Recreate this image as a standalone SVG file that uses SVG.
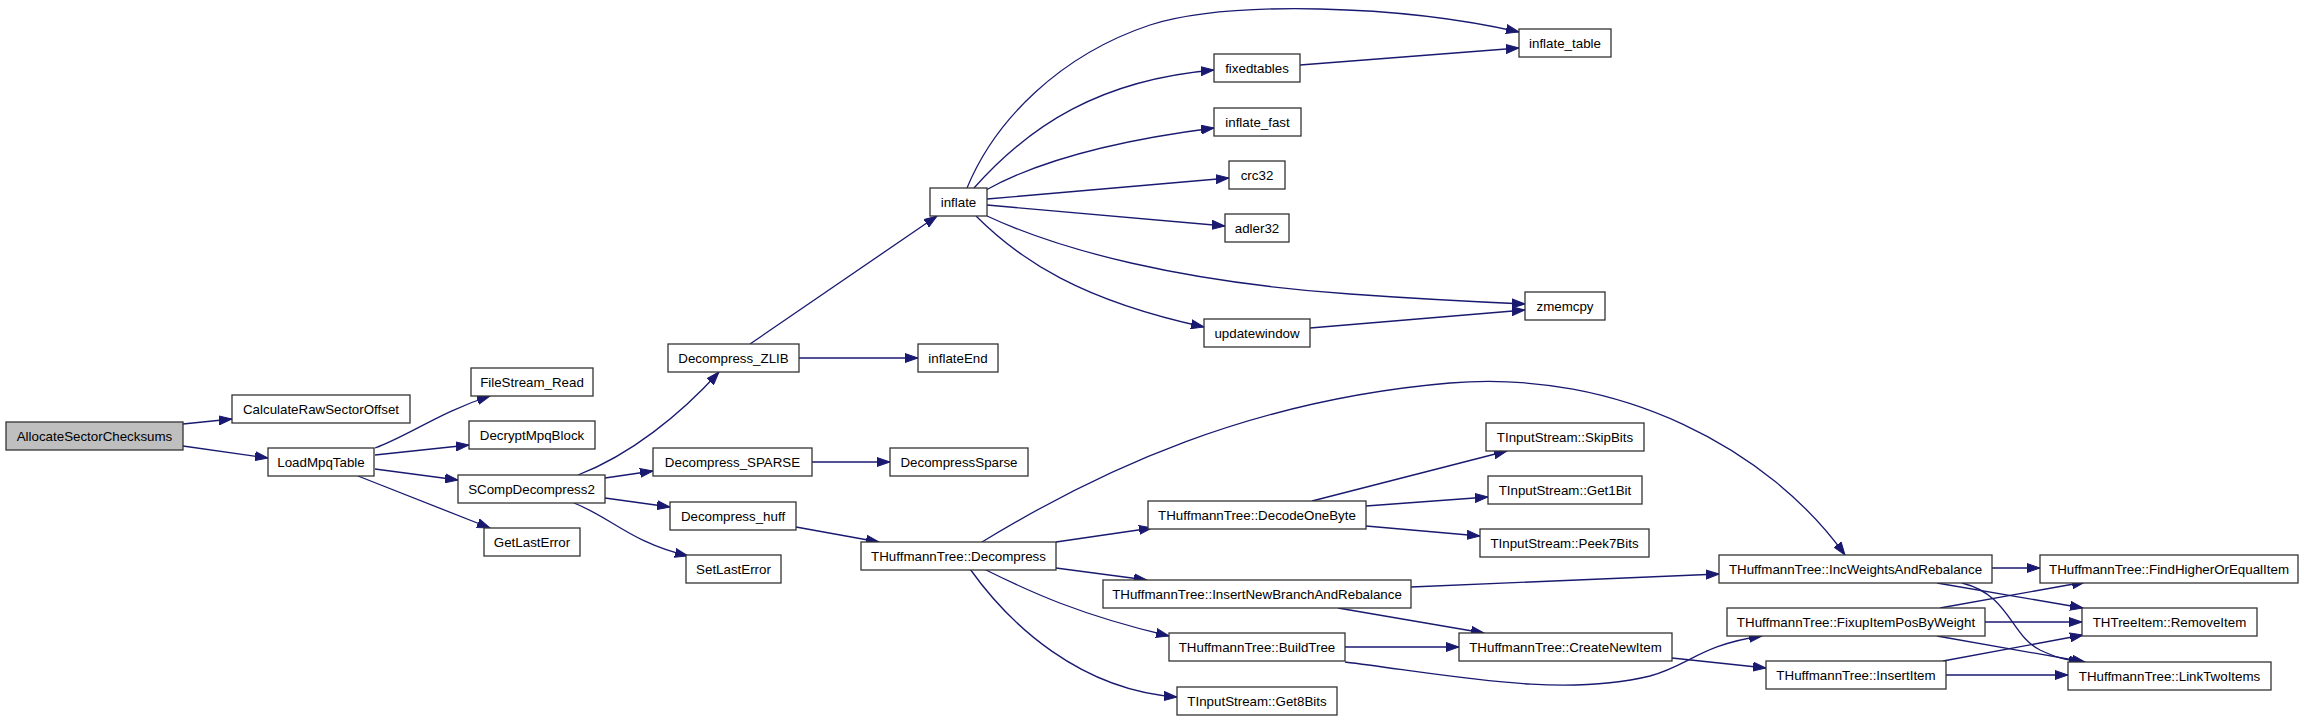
<svg xmlns="http://www.w3.org/2000/svg" width="2304" height="721" viewBox="0 0 2304 721">
<style>
.n rect{fill:#ffffff;stroke:#333333;stroke-width:1.3}
.n.root rect{fill:#bfbfbf}
.n text{font-family:"Liberation Sans",Arial,sans-serif;font-size:13.33px;fill:#000000;text-anchor:middle}
.e path{fill:none;stroke:#191970;stroke-width:1.3;marker-end:url(#arr)}
</style>
<defs>
<marker id="arr" markerWidth="14" markerHeight="10" refX="13" refY="5" orient="auto" markerUnits="userSpaceOnUse">
<path d="M0,0.5 L13,5 L0,9.5 z" fill="#191970" stroke="#191970" stroke-width="1"/>
</marker>
</defs>
<rect x="0" y="0" width="2304" height="721" fill="#ffffff"/>
<g id="connectors" class="e">
<path d="M183,424 L232,419"/>
<path d="M183,446 L268,458"/>
<path d="M375,448 C410,435 440,412 490,396"/>
<path d="M375,455 L469,445"/>
<path d="M375,469 L458,480"/>
<path d="M358,476 L490,528"/>
<path d="M578,475 C630,455 680,415 719,372"/>
<path d="M605,478 L653,471"/>
<path d="M605,498 L670,507"/>
<path d="M574,503 C612,518 630,542 688,556"/>
<path d="M750,344 L937,216"/>
<path d="M799,358 L918,358"/>
<path d="M812,462 L890,462"/>
<path d="M796,527 L879,542"/>
<path d="M967,188 C995,120 1060,55 1150,25 C1230,0 1400,5 1519,32"/>
<path d="M974,188 C1030,125 1100,80 1214,70"/>
<path d="M986,190 C1040,160 1120,140 1214,128"/>
<path d="M987,199 L1229,178"/>
<path d="M987,205 L1225,226"/>
<path d="M987,216 C1060,250 1180,282 1350,294 C1420,299 1480,302 1525,304"/>
<path d="M976,216 C1020,260 1080,300 1204,327"/>
<path d="M1310,328 L1525,310"/>
<path d="M1300,65 L1519,48"/>
<path d="M1056,542 L1152,528"/>
<path d="M1056,568 L1147,580"/>
<path d="M984,569 C1030,592 1080,615 1169,636"/>
<path d="M970,569 C1010,625 1080,690 1177,697"/>
<path d="M982,542 C1100,470 1250,400 1450,383 C1620,369 1770,450 1845,555"/>
<path d="M1312,501 L1507,451"/>
<path d="M1366,506 L1488,497"/>
<path d="M1366,526 L1480,536"/>
<path d="M1411,587 C1520,582 1620,578 1719,574"/>
<path d="M1338,608 L1484,633"/>
<path d="M1345,647 L1459,647"/>
<path d="M1345,662 C1450,675 1560,698 1650,676 C1690,665 1700,645 1762,636"/>
<path d="M1672,658 L1766,668"/>
<path d="M1992,568 L2040,568"/>
<path d="M1937,583 L2083,608"/>
<path d="M1962,583 C2010,595 2010,635 2040,650 C2055,657 2065,660 2082,662"/>
<path d="M1940,608 L2085,582"/>
<path d="M1985,622 L2082,622"/>
<path d="M1937,636 L2085,662"/>
<path d="M1943,661 L2083,635"/>
<path d="M1946,675 L2068,675"/>
</g>
<g id="n1" class="n root"><rect x="6" y="422" width="177" height="28"/><text x="94.5" y="440.5">AllocateSectorChecksums</text></g>
<g id="n2" class="n"><rect x="232" y="395" width="178" height="28"/><text x="321" y="413.5">CalculateRawSectorOffset</text></g>
<g id="n3" class="n"><rect x="268" y="448" width="106" height="28"/><text x="321" y="466.5">LoadMpqTable</text></g>
<g id="n4" class="n"><rect x="471" y="368" width="122" height="28"/><text x="532" y="386.5">FileStream_Read</text></g>
<g id="n5" class="n"><rect x="469" y="421" width="126" height="28"/><text x="532" y="439.5">DecryptMpqBlock</text></g>
<g id="n6" class="n"><rect x="458" y="475" width="147" height="28"/><text x="531.5" y="493.5">SCompDecompress2</text></g>
<g id="n7" class="n"><rect x="484" y="528" width="96" height="28"/><text x="532" y="546.5">GetLastError</text></g>
<g id="n8" class="n"><rect x="668" y="344" width="131" height="28"/><text x="733.5" y="362.5">Decompress_ZLIB</text></g>
<g id="n9" class="n"><rect x="918" y="344" width="80" height="28"/><text x="958" y="362.5">inflateEnd</text></g>
<g id="n10" class="n"><rect x="653" y="448" width="159" height="28"/><text x="732.5" y="466.5">Decompress_SPARSE</text></g>
<g id="n11" class="n"><rect x="890" y="448" width="138" height="28"/><text x="959" y="466.5">DecompressSparse</text></g>
<g id="n12" class="n"><rect x="670" y="502" width="126" height="28"/><text x="733" y="520.5">Decompress_huff</text></g>
<g id="n13" class="n"><rect x="686" y="555" width="95" height="28"/><text x="733.5" y="573.5">SetLastError</text></g>
<g id="n14" class="n"><rect x="861" y="542" width="195" height="28"/><text x="958.5" y="560.5">THuffmannTree::Decompress</text></g>
<g id="n15" class="n"><rect x="930" y="188" width="57" height="28"/><text x="958.5" y="206.5">inflate</text></g>
<g id="n16" class="n"><rect x="1519" y="29" width="92" height="28"/><text x="1565" y="47.5">inflate_table</text></g>
<g id="n17" class="n"><rect x="1214" y="54" width="86" height="28"/><text x="1257" y="72.5">fixedtables</text></g>
<g id="n18" class="n"><rect x="1214" y="108" width="87" height="28"/><text x="1257.5" y="126.5">inflate_fast</text></g>
<g id="n19" class="n"><rect x="1229" y="161" width="56" height="28"/><text x="1257" y="179.5">crc32</text></g>
<g id="n20" class="n"><rect x="1225" y="214" width="64" height="28"/><text x="1257" y="232.5">adler32</text></g>
<g id="n21" class="n"><rect x="1204" y="319" width="106" height="28"/><text x="1257" y="337.5">updatewindow</text></g>
<g id="n22" class="n"><rect x="1525" y="292" width="80" height="28"/><text x="1565" y="310.5">zmemcpy</text></g>
<g id="n23" class="n"><rect x="1148" y="501" width="218" height="28"/><text x="1257" y="519.5">THuffmannTree::DecodeOneByte</text></g>
<g id="n24" class="n"><rect x="1103" y="580" width="308" height="28"/><text x="1257" y="598.5">THuffmannTree::InsertNewBranchAndRebalance</text></g>
<g id="n25" class="n"><rect x="1169" y="633" width="176" height="28"/><text x="1257" y="651.5">THuffmannTree::BuildTree</text></g>
<g id="n26" class="n"><rect x="1177" y="687" width="160" height="28"/><text x="1257" y="705.5">TInputStream::Get8Bits</text></g>
<g id="n27" class="n"><rect x="1486" y="423" width="158" height="28"/><text x="1565" y="441.5">TInputStream::SkipBits</text></g>
<g id="n28" class="n"><rect x="1488" y="476" width="154" height="28"/><text x="1565" y="494.5">TInputStream::Get1Bit</text></g>
<g id="n29" class="n"><rect x="1480" y="529" width="169" height="28"/><text x="1564.5" y="547.5">TInputStream::Peek7Bits</text></g>
<g id="n30" class="n"><rect x="1459" y="633" width="213" height="28"/><text x="1565.5" y="651.5">THuffmannTree::CreateNewItem</text></g>
<g id="n31" class="n"><rect x="1719" y="555" width="273" height="28"/><text x="1855.5" y="573.5">THuffmannTree::IncWeightsAndRebalance</text></g>
<g id="n32" class="n"><rect x="1727" y="608" width="258" height="28"/><text x="1856" y="626.5">THuffmannTree::FixupItemPosByWeight</text></g>
<g id="n33" class="n"><rect x="1766" y="661" width="180" height="28"/><text x="1856" y="679.5">THuffmannTree::InsertItem</text></g>
<g id="n34" class="n"><rect x="2040" y="555" width="258" height="28"/><text x="2169" y="573.5">THuffmannTree::FindHigherOrEqualItem</text></g>
<g id="n35" class="n"><rect x="2082" y="608" width="175" height="28"/><text x="2169.5" y="626.5">THTreeItem::RemoveItem</text></g>
<g id="n36" class="n"><rect x="2068" y="662" width="203" height="28"/><text x="2169.5" y="680.5">THuffmannTree::LinkTwoItems</text></g>
</svg>
